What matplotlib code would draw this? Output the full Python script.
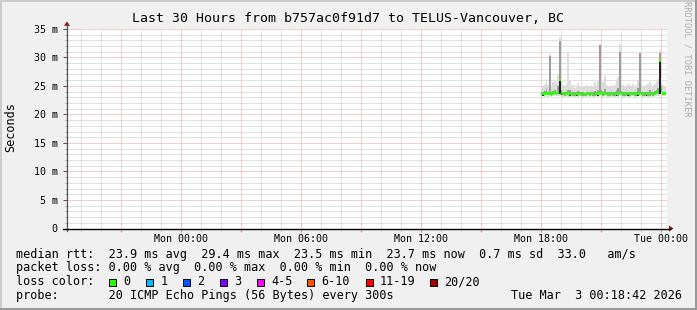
"""
Smokeping style latency graph (last 30 hours) rebuilt with matplotlib.
"""
import matplotlib
matplotlib.use("Agg")
import matplotlib.pyplot as plt
import matplotlib.dates as mdates
import matplotlib.ticker as mticker
from matplotlib.patches import Polygon, Rectangle
from matplotlib.lines import Line2D
import numpy as np
import pandas as pd

W, H = 697, 310

# probe steps (5 min), first step Mon 18:00
STEP_START = "2026-03-02 18:00"
VIEW_START = "2026-03-01 18:18:42"
VIEW_END = "2026-03-03 00:18:42"

# median rtt per step (ms)
median_ms = [
    23.7, 23.6, 23.7, 23.8, 23.7, 23.7, 23.6, 23.7, 23.8, 23.7, 23.9, 26.0,
    23.8, 23.7, 23.6, 23.7, 23.7, 23.6, 23.7, 23.6, 23.6, 23.7, 23.6, 23.7,
    23.6, 23.6, 23.5, 23.6, 23.7, 23.6, 23.7, 23.6, 23.6, 23.7, 23.7, 23.8,
    23.7, 23.6, 23.7, 23.7, 23.6, 23.6, 23.7, 23.6, 23.6, 23.7, 23.6, 23.8,
    23.7, 23.6, 23.6, 23.7, 23.6, 23.6, 23.7, 23.7, 23.6, 23.6, 23.7, 23.8,
    23.7, 23.6, 23.6, 23.7, 23.6, 23.6, 23.7, 23.6, 23.7, 23.8, 23.9, 29.4,
    24.5, 23.7, 23.7,
]
# outer smoke (fastest / slowest ping)
smoke_min = [
    23.1, 23.2, 23.1, 23.2, 23.1, 23.2, 23.1, 23.2, 23.2, 23.1, 23.2, 23.3,
    23.2, 23.1, 23.1, 23.2, 23.1, 23.1, 23.2, 23.1, 23.1, 23.2, 23.1, 23.2,
    23.1, 23.1, 23.0, 23.1, 23.2, 23.1, 23.2, 23.1, 23.1, 23.2, 23.1, 23.2,
    23.2, 23.1, 23.2, 23.1, 23.1, 23.1, 23.2, 23.1, 23.1, 23.2, 23.1, 23.2,
    23.2, 23.1, 23.1, 23.2, 23.1, 23.1, 23.2, 23.2, 23.1, 23.1, 23.2, 23.2,
    23.2, 23.1, 23.1, 23.2, 23.1, 23.1, 23.2, 23.1, 23.2, 23.2, 23.3, 23.3,
    23.4, 23.2, 23.2,
]
smoke_max = [
    25.0, 24.8, 25.3, 26.2, 25.1, 30.5, 25.0, 25.6, 25.8, 25.4, 27.0, 33.5,
    26.5, 25.2, 25.0, 25.4, 30.9, 26.0, 24.9, 25.1, 24.7, 25.0, 25.5, 24.8,
    25.1, 24.9, 24.8, 25.3, 25.0, 24.9, 25.2, 24.8, 25.6, 25.0, 25.9, 32.4,
    26.3, 25.7, 26.8, 25.2, 24.9, 25.0, 25.3, 24.8, 25.1, 25.9, 26.5, 32.4,
    25.6, 25.2, 25.0, 24.8, 25.4, 25.1, 25.0, 25.3, 24.9, 25.2, 26.0, 30.9,
    25.3, 25.0, 24.8, 25.1, 25.4, 25.7, 25.2, 25.0, 25.4, 25.6, 26.2, 31.2,
    26.0, 25.1, 24.8,
]
# middle smoke band
smoke_q_lo = [
    23.4, 23.4, 23.4, 23.5, 23.4, 23.4, 23.3, 23.4, 23.5, 23.4, 23.5, 23.6,
    23.5, 23.4, 23.3, 23.4, 23.4, 23.3, 23.4, 23.3, 23.3, 23.4, 23.3, 23.4,
    23.3, 23.3, 23.2, 23.3, 23.4, 23.3, 23.4, 23.3, 23.3, 23.4, 23.4, 23.5,
    23.4, 23.3, 23.4, 23.4, 23.3, 23.3, 23.4, 23.3, 23.3, 23.4, 23.3, 23.5,
    23.4, 23.3, 23.3, 23.4, 23.3, 23.3, 23.4, 23.4, 23.3, 23.3, 23.4, 23.5,
    23.4, 23.3, 23.3, 23.4, 23.3, 23.3, 23.4, 23.3, 23.4, 23.5, 23.6, 23.6,
    23.9, 23.4, 23.4,
]
smoke_q_hi = [
    24.0, 23.9, 24.1, 24.4, 24.0, 30.3, 23.9, 24.1, 24.2, 24.0, 25.0, 32.8,
    24.3, 24.0, 23.9, 24.0, 24.3, 24.2, 23.9, 24.0, 23.9, 24.0, 24.1, 24.0,
    23.9, 23.9, 23.8, 24.0, 24.0, 23.9, 24.0, 23.9, 24.1, 24.0, 24.3, 32.1,
    24.2, 24.0, 24.4, 24.0, 23.9, 23.9, 24.0, 23.9, 23.9, 24.3, 24.6, 30.9,
    24.1, 24.0, 23.9, 23.9, 24.0, 23.9, 24.0, 24.0, 23.9, 24.0, 24.7, 30.7,
    24.0, 23.9, 23.9, 24.0, 24.0, 24.2, 24.0, 23.9, 24.1, 24.2, 24.7, 30.8,
    25.0, 24.0, 23.9,
]
# dark core of the smoke (pings closest to the median)
core_lo = [
    23.7, 23.2, 23.7, 23.8, 23.7, 23.7, 23.6, 23.7, 23.8, 23.7, 23.9, 23.6,
    23.4, 23.7, 23.6, 23.7, 23.7, 23.2, 23.7, 23.6, 23.6, 23.3, 23.6, 23.7,
    23.6, 23.6, 23.5, 23.6, 23.7, 23.6, 23.7, 23.6, 23.6, 23.7, 23.3, 23.8,
    23.7, 23.6, 23.7, 23.7, 23.6, 23.6, 23.7, 23.6, 23.6, 23.3, 23.6, 23.8,
    23.7, 23.6, 23.6, 23.7, 23.2, 23.6, 23.7, 23.7, 23.6, 23.6, 23.3, 23.8,
    23.7, 23.6, 23.6, 23.3, 23.6, 23.6, 23.7, 23.6, 23.7, 23.8, 23.9, 23.6,
    24.5, 23.7, 23.7,
]
core_hi = [
    23.7, 23.6, 23.7, 23.8, 23.7, 23.7, 23.6, 23.7, 23.8, 23.7, 23.9, 26.0,
    23.8, 23.7, 23.6, 23.7, 23.7, 23.6, 23.7, 23.6, 23.6, 23.7, 23.6, 23.7,
    23.6, 23.6, 23.5, 23.6, 23.7, 23.6, 23.7, 23.6, 23.6, 23.7, 23.7, 23.8,
    23.7, 23.6, 23.7, 23.7, 23.6, 23.6, 23.7, 23.6, 23.6, 23.7, 23.6, 23.8,
    23.7, 23.6, 23.6, 23.7, 23.6, 23.6, 23.7, 23.7, 23.6, 23.6, 23.7, 23.8,
    23.7, 23.6, 23.6, 23.7, 23.6, 23.6, 23.7, 23.6, 23.7, 23.8, 23.9, 29.4,
    24.5, 23.7, 23.7,
]

# legend texts
TITLE = "Last 30 Hours from b757ac0f91d7 to TELUS-Vancouver, BC"
LEGEND_LINES = [
    "median rtt:  23.9 ms avg  29.4 ms max  23.5 ms min  23.7 ms now  0.7 ms sd  33.0   am/s",
    "packet loss: 0.00 % avg  0.00 % max  0.00 % min  0.00 % now",
    "loss color:",
    "probe:       20 ICMP Echo Pings (56 Bytes) every 300s",
]
LOSS_LABELS = ["0", "1", "2", "3", "4-5", "6-10", "11-19", "20/20"]
LOSS_COLORS = ["#26FF00", "#00B8FF", "#0059FF", "#7E00FF",
               "#FF00FF", "#FF5500", "#FF0000", "#A10000"]
LOSS_BOX_X = [108.7, 145.7, 182.7, 219.5, 256.7, 306.7, 365.5, 430.0]
STAMP = "Tue Mar  3 00:18:42 2026"

MONO = "DejaVu Sans Mono"
plt.rcParams["font.family"] = MONO


def fx(x):
    return x / W


def fy(y):
    return 1 - y / H


def fig_line(fig, x0, y0, x1, y1, **kw):
    fig.add_artist(Line2D([fx(x0), fx(x1)], [fy(y0), fy(y1)],
                          transform=fig.transFigure, **kw))


def stepped(values):
    v = np.asarray(values, dtype=float)
    return np.append(v, v[-1])


fig = plt.figure(figsize=(W / 100, H / 100), dpi=100)
fig.patch.set_facecolor("#F0F0F0")

# plot canvas
ax = fig.add_axes([fx(67), fy(228.5), 600 / W, 199.7 / H])
ax.set_facecolor("white")

edges = mdates.date2num(pd.date_range(STEP_START, periods=len(median_ms) + 1, freq="5min"))

# smoke layers, outermost first
ax.fill_between(edges, stepped(smoke_min), stepped(smoke_max), step="post",
                color="#DCDCDC", linewidth=0, zorder=2)
ax.fill_between(edges, stepped(smoke_q_lo), stepped(smoke_q_hi), step="post",
                color="#9C9C9C", linewidth=0, zorder=3)
ax.fill_between(edges, stepped(core_lo), stepped(core_hi), step="post",
                color="#202020", linewidth=0, zorder=4)

# median band coloured by loss (0 loss -> green)
med = stepped(median_ms)
ax.fill_between(edges, med - 0.22, med + 0.22, step="post",
                color=LOSS_COLORS[0], linewidth=0, zorder=5)

ax.set_xlim(mdates.date2num(pd.Timestamp(VIEW_START)),
            mdates.date2num(pd.Timestamp(VIEW_END)))
ax.set_ylim(0, 35)

# x axis: grid every hour, red every 3h, labels every 6h
ax.xaxis.set_major_locator(mdates.HourLocator(byhour=range(0, 24, 3)))
ax.xaxis.set_minor_locator(mdates.HourLocator())


def time_label(v, pos):
    d = mdates.num2date(v)
    return d.strftime("%a %H:%M") if d.hour % 6 == 0 else ""


ax.xaxis.set_major_formatter(mticker.FuncFormatter(time_label))

ax.yaxis.set_major_locator(mticker.MultipleLocator(5))
ax.yaxis.set_minor_locator(mticker.MultipleLocator(1))
ax.yaxis.set_major_formatter(mticker.FuncFormatter(
    lambda v, p: "0" if v == 0 else f"{v:.0f} m"))

ax.set_axisbelow(True)
ax.grid(which="minor", color="#C4C4C4", linestyle=(0, (1, 1)), linewidth=0.72)
ax.grid(which="major", color="#EC9C9C", linestyle=(0, (1, 1)), linewidth=0.72)

ax.tick_params(axis="x", which="major", length=2, width=0.72, color="#E08080",
               pad=2.2, labelsize=7.2)
ax.tick_params(axis="x", which="minor", length=1.4, width=0.72, color="#B8B8B8")
ax.tick_params(axis="y", which="major", length=3, width=0.72, color="#505050",
               pad=3.6, labelsize=7.2)
ax.tick_params(axis="y", which="minor", length=1.4, width=0.72, color="#A8A8A8")

for s in ax.spines.values():
    s.set_visible(False)

# axis lines with arrow heads
fig_line(fig, 67, 231, 67, 24, color="#505050", linewidth=0.9)
fig_line(fig, 63, 228.5, 669.5, 228.5, color="black", linewidth=1.0)
fig.add_artist(Polygon([(fx(67), fy(21.5)), (fx(64), fy(25.8)), (fx(70), fy(25.8))],
                       closed=True, transform=fig.transFigure,
                       facecolor="#8B1010", edgecolor="none"))
fig.add_artist(Polygon([(fx(673.5), fy(228.5)), (fx(669), fy(225.5)), (fx(669), fy(231.5))],
                       closed=True, transform=fig.transFigure,
                       facecolor="#8B1010", edgecolor="none"))

# title, axis label, watermark
fig.text(0.5, fy(18), TITLE, ha="center", va="center", fontsize=9.5)
fig.text(fx(10.5), fy(127.5), "Seconds", rotation=90, ha="center", va="center",
         fontsize=8.5)
fig.text(fx(686.5), fy(59), "RRDTOOL / TOBI OETIKER", rotation=270,
         ha="center", va="center", fontsize=6.2, color="#ABABAB")

# legend block
line_y = [254.3, 268.0, 281.7, 295.7]
for txt, y in zip(LEGEND_LINES, line_y):
    fig.text(fx(16), fy(y), txt, ha="left", va="center", fontsize=8.5)
fig.text(fx(682), fy(line_y[3]), STAMP, ha="right", va="center", fontsize=8.5)

for label, color, bx in zip(LOSS_LABELS, LOSS_COLORS, LOSS_BOX_X):
    fig.add_artist(Rectangle((fx(bx), fy(285.5)), 7 / W, 7 / H,
                             transform=fig.transFigure, facecolor=color,
                             edgecolor="black", linewidth=0.7))
    fig.text(fx(bx + 14.5), fy(line_y[2]), label, ha="left", va="center",
             fontsize=8.5)

# 3d frame around the image
fig_line(fig, 0, 1, W, 1, color="#CBCBCB", linewidth=1.44)
fig_line(fig, 1, 0, 1, H, color="#CBCBCB", linewidth=1.44)
fig_line(fig, W - 1, 0, W - 1, H, color="#999999", linewidth=1.44)
fig_line(fig, 0, H - 1, W, H - 1, color="#999999", linewidth=1.44)

fig.savefig("out.png", dpi=100, facecolor=fig.get_facecolor())
plt.close(fig)
